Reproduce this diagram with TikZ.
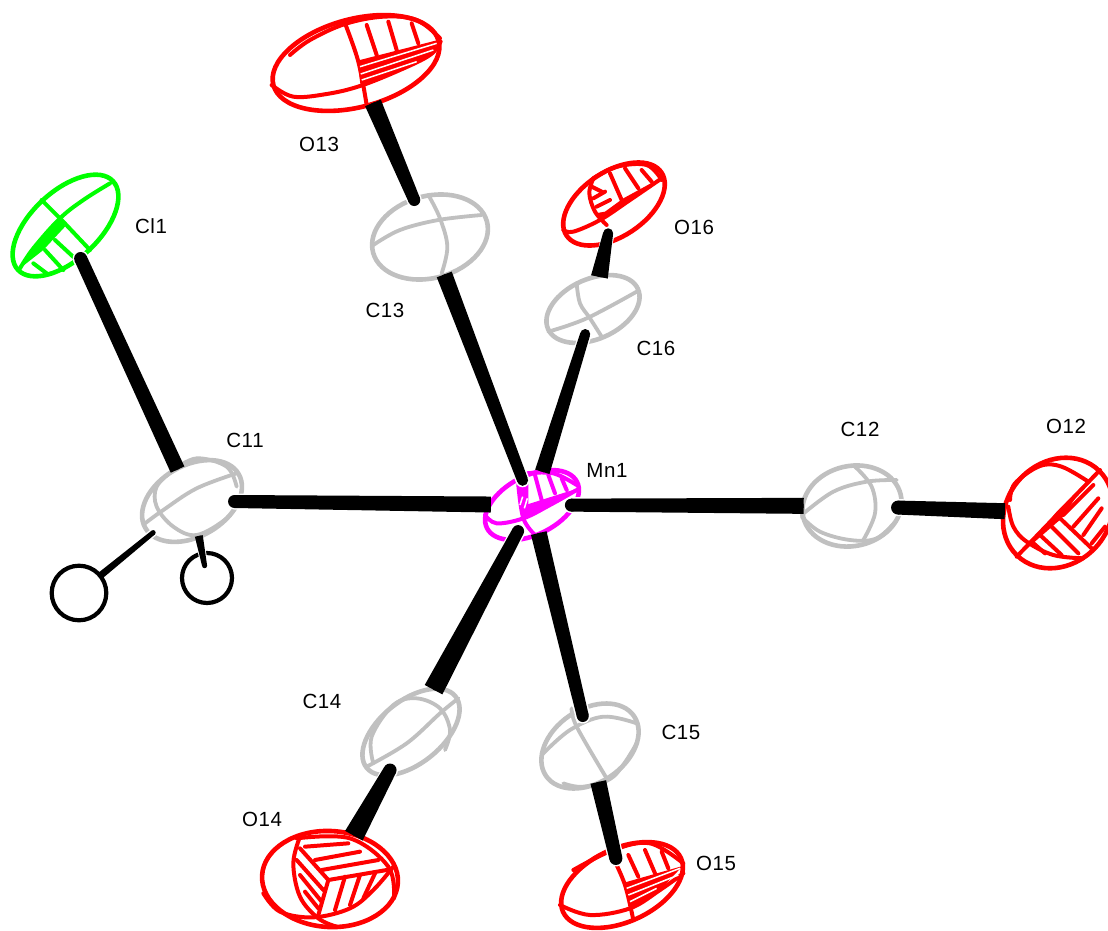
\documentclass[tikz,border=0pt]{standalone}
\usepackage{fontspec}
\setmainfont[LetterSpace=3]{Liberation Sans}
\usetikzlibrary{calc,shapes.geometric}
\definecolor{atomgray}{HTML}{C0C0C0}
\definecolor{ored}{HTML}{FF0000}
\definecolor{clgreen}{HTML}{00FF00}
\definecolor{mnpink}{HTML}{FF00FF}
\tikzset{
  atomring/.style n args={4}{ellipse,draw,inner sep=0pt,outer sep=0pt,line width=4.6pt,
    minimum width=#2*2pt,minimum height=#3*2pt,rotate=#4,draw=#1},
  hatom/.style={circle,draw=black,line width=4.2pt,inner sep=0pt,outer sep=0pt,minimum size=#1*2pt},
  zoomed/.style 2 args={shift={(#1,#2)},x=0.33333pt,y=-0.33333pt},
  inkline/.style={line width=4pt,line cap=round,line join=round},
  fineline/.style={line width=3.8pt,line cap=round,line join=round},
  stripe/.style={white,line width=1.5pt},
  bondcore/.style={black,line width=4pt},
  bondhalo/.style={white,line cap=round},
  atomlabel/.style={font=\fontsize{20.5}{24}\selectfont,inner sep=0pt,text=black},
}
\newcommand\cv[2][inkline]{\draw[#1] plot[smooth,tension=0.6] coordinates {#2};}
% \bond{flat-end atom}{round-end atom}{half width flat}{half width round}{gap flat}{gap round}
\newcommand\bond[6]{%
  \path (#1) -- (#2) coordinate[pos=0] (bfz) coordinate[pos=1] (brz);
  \coordinate (bf) at ($(bfz)!#5pt!(brz)$);
  \coordinate (br) at ($(brz)!#6pt!(bfz)$);
  \draw[bondhalo,line width=(2*#4+3)*1pt] (br) -- ($(br)!22pt!(bf)$);
  \draw[bondcore,shorten <=#5pt,shorten >=#6pt] (#1) -- (#2);
  \fill[black] ($(bf)!#3pt!90:(br)$) -- ($(bf)!#3pt!-90:(br)$) -- ($(br)!#4pt!90:(bf)$) -- ($(br)!#4pt!-90:(bf)$) -- cycle;
  \fill[black] (br) circle (#4pt);
}
\begin{document}
\begin{tikzpicture}[x=1pt,y=-1pt]
\useasboundingbox (0,0) rectangle (1108,930);
\fill[white] (0,0) rectangle (1108,930);
% --- atoms
\node[atomring={ored}{85.5}{44}{15}] (O13) at (356,63) {};
\node[atomring={ored}{57}{32.5}{33.5}] (O16) at (614,204) {};
\node[atomring={clgreen}{65}{34}{43}] (Cl1) at (65.5,225.5) {};
\node[atomring={atomgray}{59}{41}{15.5}] (C13) at (430,237) {};
\node[atomring={atomgray}{49.2}{30}{24}] (C16) at (593,309) {};
\node[atomring={atomgray}{53.9}{35.5}{30}] (C11) at (192,501) {};
\node[atomring={mnpink}{50.6}{29.3}{27.4}] (Mn1) at (532,505) {};
\node[atomring={atomgray}{50}{40}{13}] (C12) at (852,506) {};
\node[atomring={ored}{59}{51}{46}] (O12) at (1058,513) {};
\node[atomring={atomgray}{57}{31.4}{38.8}] (C14) at (411,732) {};
\node[atomring={atomgray}{53.2}{36.6}{34}] (C15) at (590,746) {};
\node[atomring={ored}{68}{48}{-3}] (O14) at (330,879) {};
\node[atomring={ored}{64.8}{36.7}{24.6}] (O15) at (622,885) {};
\node[hatom=27.3] (H1) at (79,593) {};
\node[hatom=25] (H2) at (207,578) {};
% --- octant lines, O13
\begin{scope}[zoomed={250}{0},color=ored]
  \cv{(120,165)(180,120)(285,72)(400,50)(500,60)(570,115)}
  \cv{(65,255)(130,290)(230,282)(330,258)(450,210)(540,165)(572,125)}
  \cv{(285,70)(325,185)(350,315)}
  \fill (322,182) -- (572,118) -- (540,165) -- (450,212) -- (332,258) -- cycle;
  \draw[stripe] (330,200) -- (560,130);
  \draw[stripe] (332,222) -- (550,150);
  \draw[stripe] (335,240) -- (500,185);
  \draw[inkline] (350,75) -- (380,165);
  \draw[inkline] (415,65) -- (440,150);
  \draw[inkline] (485,70) -- (505,130);
\end{scope}
% --- O14
\begin{scope}[zoomed={250}{810},color=ored]
  \cv{(140,85)(300,85)(415,170)(432,265)}
  \cv{(150,80)(130,160)(150,260)(205,325)(260,350)}
  \cv{(40,250)(90,305)(190,322)(300,295)(370,240)(430,170)}
  \draw[inkline] (150,115) -- (235,210) -- (410,180);
  \draw[inkline] (235,210) -- (205,315);
  \draw[inkline] (165,110) -- (295,100);
  \draw[inkline] (195,150) -- (330,125);
  \draw[inkline] (215,180) -- (385,150);
  \draw[inkline] (140,150) -- (220,240);
  \draw[inkline] (150,195) -- (215,275);
  \draw[inkline] (165,245) -- (205,295);
  \draw[inkline] (285,200) -- (255,300);
  \draw[inkline] (330,195) -- (300,285);
  \draw[inkline] (375,190) -- (340,265);
\end{scope}
% --- O15
\begin{scope}[zoomed={550}{830},color=ored]
  \cv{(70,120)(190,60)(300,40)(400,100)}
  \cv{(30,225)(120,255)(240,235)(330,180)(400,130)}
  \cv{(190,85)(225,165)(250,270)}
  \fill (222,158) -- (398,108) -- (330,180) -- (240,236) -- cycle;
  \draw[stripe] (230,175) -- (390,115);
  \draw[stripe] (235,195) -- (385,135);
  \draw[stripe] (240,215) -- (320,175);
  \draw[inkline] (235,75) -- (265,140);
  \draw[inkline] (285,60) -- (315,130);
  \draw[inkline] (335,65) -- (355,115);
\end{scope}
% --- O12
\begin{scope}[zoomed={990}{440},color=ored]
  \cv{(60,180)(75,130)(150,78)(215,80)(295,125)}
  \cv{(55,200)(70,260)(110,305)(190,345)(280,355)}
  \draw[inkline] (80,350) -- (330,90);
  \fill (100,335) -- (200,215) -- (290,125) -- (215,235) -- cycle;
  \draw[inkline] (205,230) -- (305,325);
  \draw[inkline] (220,225) -- (310,135);
  \draw[inkline] (250,260) -- (325,175);
  \draw[inkline] (280,285) -- (335,205);
  \draw[inkline] (305,310) -- (345,260);
  \draw[inkline] (180,255) -- (265,340);
  \draw[inkline] (150,285) -- (215,345);
  \draw[inkline] (125,305) -- (165,340);
\end{scope}
% --- O16
\begin{scope}[zoomed={550}{150},color=ored]
  \cv{(130,85)(118,130)(135,185)(170,225)}
  \cv{(130,85)(200,50)(290,45)(335,90)}
  \cv{(40,240)(70,245)(150,210)(240,150)(335,85)}
  \fill (135,190) -- (150,205) -- (240,150) -- (330,85) -- (220,145) -- (165,185) -- cycle;
  \draw[inkline] (180,70) -- (215,150);
  \draw[inkline] (225,55) -- (265,115);
  \draw[inkline] (275,60) -- (305,95);
  \draw[inkline] (125,110) -- (155,125);
  \draw[inkline] (130,145) -- (165,125);
  \draw[inkline] (140,170) -- (180,150);
\end{scope}
% --- Cl1
\begin{scope}[zoomed={0}{165},color=clgreen]
  \cv{(60,310)(100,250)(180,160)(250,105)(330,55)}
  \fill (60,310) -- (110,235) -- (185,160) -- (195,185) -- (130,255) -- cycle;
  \draw[inkline] (125,105) -- (185,165) -- (270,255);
  \draw[inkline] (165,225) -- (230,285);
  \draw[inkline] (135,255) -- (190,315);
  \draw[inkline] (100,295) -- (140,325);
\end{scope}
% --- Mn1
\begin{scope}[zoomed={460}{440},color=mnpink]
  \cv{(75,225)(110,250)(190,235)(270,195)(350,150)}
  \cv{(175,135)(190,235)(225,285)}
  \cv{(200,100)(280,100)(350,135)}
  \fill (190,197) -- (345,148) -- (270,195) -- (190,235) -- cycle;
  \fill (170,130) -- (205,120) -- (205,190) -- (188,225) -- cycle;
  \draw[stripe] (188,170) -- (180,195);
  \draw[stripe] (202,175) -- (193,205);
  \draw[inkline] (225,105) -- (245,180);
  \draw[inkline] (265,105) -- (285,160);
  \draw[inkline] (305,115) -- (320,150);
\end{scope}
% --- carbon octant lines
\begin{scope}[zoomed={360}{190},color=atomgray]
  \cv[fineline]{(40,165)(120,120)(235,90)(365,75)}
  \cv[fineline]{(205,15)(240,85)(262,170)(245,250)}
  \cv[fineline]{(565,425)(680,385)(830,305)}
  \cv[fineline]{(650,280)(660,340)(690,385)(725,440)}
\end{scope}
\begin{scope}[zoomed={790}{450},color=atomgray]
  \cv[fineline]{(35,195)(130,125)(230,95)(320,90)}
  \cv[fineline]{(195,50)(245,110)(255,190)(220,270)}
  \cv[fineline]{(35,200)(90,245)(180,270)(260,265)(320,210)}
\end{scope}
\begin{scope}[zoomed={350}{680},color=atomgray]
  \cv[fineline]{(70,250)(65,170)(130,75)(200,55)(270,85)(300,150)(285,210)}
  \cv[fineline]{(50,260)(170,190)(270,100)(325,55)}
  \cv[fineline]{(575,225)(660,150)(760,110)(860,130)}
  \cv[fineline]{(665,85)(680,140)(770,295)}
  \cv[fineline]{(640,310)(700,320)(790,290)(860,190)}
\end{scope}
\begin{scope}[zoomed={40}{450},color=atomgray]
  \cv[fineline]{(315,220)(370,180)(470,115)(590,70)}
  \cv[fineline]{(400,60)(350,110)(350,170)(400,230)(470,255)(560,205)(600,150)}
  \cv[fineline]{(400,60)(470,25)(560,50)(590,110)}
\end{scope}
% --- bonds
\bond{C13}{Mn1}{8}{5.5}{-1}{-3}
\bond{O13}{C13}{8.5}{6}{-1}{-1}
\bond{Mn1}{C16}{7.5}{5}{-1}{-9}
\bond{C16}{O16}{8.5}{5}{-1}{-10}
\bond{C12}{Mn1}{8}{6.5}{-1}{-3}
\bond{O12}{C12}{8}{7}{-1}{-3}
\bond{Mn1}{C11}{8}{6.5}{-1}{-4}
\bond{C11}{Cl1}{7.5}{6.5}{-1}{1}
\bond{C14}{Mn1}{10}{6}{-1}{-10}
\bond{O14}{C14}{10}{6.5}{-1}{-6}
\bond{Mn1}{C15}{8}{6}{-1}{-7}
\bond{C15}{O15}{8}{6.5}{-1}{-10}
\bond{H1}{C11}{3.5}{2.5}{-1}{-3}
\bond{C11}{H2}{4}{2.5}{-1}{-12.5}
% --- labels
\node[atomlabel] (lO13) at (319,144) {O13};
\node[atomlabel] (lCl1) at (151,226) {Cl1};
\node[atomlabel] (lC13) at (385,310) {C13};
\node[atomlabel] (lO16) at (694,227) {O16};
\node[atomlabel] (lC16) at (656,348) {C16};
\node[atomlabel] (lC11) at (245,440) {C11};
\node[atomlabel] (lC12) at (860,429) {C12};
\node[atomlabel] (lO12) at (1066,426) {O12};
\node[atomlabel] (lMn1) at (607,470) {Mn1};
\node[atomlabel] (lC14) at (322,701) {C14};
\node[atomlabel] (lC15) at (681,732) {C15};
\node[atomlabel] (lO14) at (262,819) {O14};
\node[atomlabel] (lO15) at (716,863) {O15};
\end{tikzpicture}
\end{document}
